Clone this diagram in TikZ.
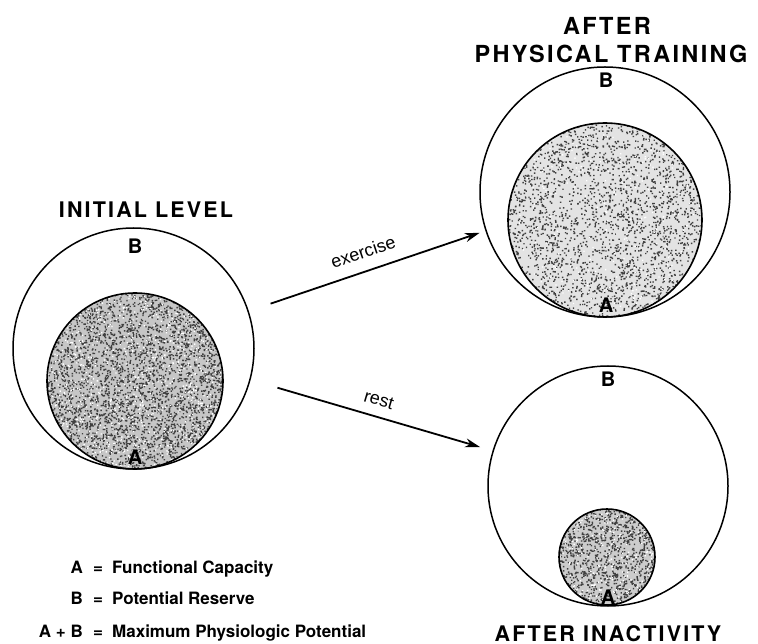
\documentclass[tikz,border=0pt]{standalone}
\usepackage{fontspec}
\setmainfont{TeX Gyre Heros}
\newfontfamily\titlefont[LetterSpace=10]{TeX Gyre Heros}
\newfontfamily\arrowfont{Liberation Sans}
\usetikzlibrary{arrows.meta}
\newcommand\stippledisc[7]{%
  \begin{scope}
    \clip (#1,#2) circle (#3);
    \fill[gray!#6] (#1,#2) circle (#3);
    \pgfmathsetseed{#5}
    \fill[black!75] \foreach \k in {1,...,#4}{
      ({#1+rand*#3},{#2+rand*#3}) rectangle ++(1.4,1.4)};
    \fill[white] \foreach \k in {1,...,#7}{
      ({#1+rand*#3},{#2+rand*#3}) rectangle ++(1.3,1.3)};
  \end{scope}
  \draw[line width=1.6pt] (#1,#2) circle (#3);}
\tikzset{
  outer/.style={circle,draw,line width=1.5pt,inner sep=0pt},
  letter/.style={font=\bfseries\fontsize{20}{20}\selectfont,inner sep=0pt},
  title/.style={font=\titlefont\bfseries\fontsize{21.5}{21.5}\selectfont,inner sep=0pt},
  bigtitle/.style={font=\titlefont\bfseries\fontsize{23.5}{23.5}\selectfont,inner sep=0pt},
  arr/.style={line width=1.8pt,-{Stealth[length=15pt,width=9pt]}},
  arrlabel/.style={font=\arrowfont\fontsize{18}{18}\selectfont,inner sep=0pt},
  legend/.style={font=\bfseries\fontsize{17}{17}\selectfont,inner sep=0pt}
}
\begin{document}
\begin{tikzpicture}[x=1pt,y=-1pt]
\useasboundingbox (0,0) rectangle (758,644);
\fill[white] (0,0) rectangle (758,644);
% initial
\stippledisc{135}{381}{88}{4000}{11}{45}{900}
\node[outer,minimum size=241pt] (init) at (133.5,348.5) {};
\node[title] (tinit) at (146,210) {INITIAL LEVEL};
\node[letter] (binit) at (135,246) {B};
\node[letter] (ainit) at (135,457) {A};
% training
\stippledisc{605}{220}{97}{2800}{23}{22}{300}
\node[outer,minimum size=250pt] (train) at (605,192) {};
\node[bigtitle] (tafter) at (607,26) {AFTER};
\node[bigtitle] (ttrain) at (611,54) {PHYSICAL TRAINING};
\node[letter] (btrain) at (606,80) {B};
\node[letter] (atrain) at (606,305) {A};
% inactivity
\stippledisc{607}{557}{48}{1200}{37}{40}{250}
\node[outer,minimum size=240pt] (inact) at (608,486) {};
\node[title] (tinact) at (608,634) {AFTER INACTIVITY};
\node[letter] (binact) at (608,379) {B};
\node[letter] (ainact) at (608,597) {A};
% arrows
\draw[arr,shorten <=23pt,shorten >=6pt] (init.18) -- (train.198);
\draw[arr,shorten <=28pt,shorten >=13pt] (init.-15) -- (inact.163);
\node[arrlabel,rotate=18.7] (lex) at (363,252) {exercise};
\node[arrlabel,rotate=-16.5] (lrest) at (379,400) {rest};
% legend
\node[legend,anchor=base east] (la) at (83,573) {A};
\node[legend,anchor=base] (lae) at (98,573) {=};
\node[legend,anchor=base west] (lat) at (112,573) {Functional Capacity};
\node[legend,anchor=base east] (lb) at (83,604) {B};
\node[legend,anchor=base] (lbe) at (98,604) {=};
\node[legend,anchor=base west] (lbt) at (112,604) {Potential Reserve};
\node[legend,anchor=base east] (lab) at (83,637) {A + B};
\node[legend,anchor=base] (labe) at (98,637) {=};
\node[legend,anchor=base west] (labt) at (112,637) {Maximum Physiologic Potential};
\end{tikzpicture}
\end{document}
